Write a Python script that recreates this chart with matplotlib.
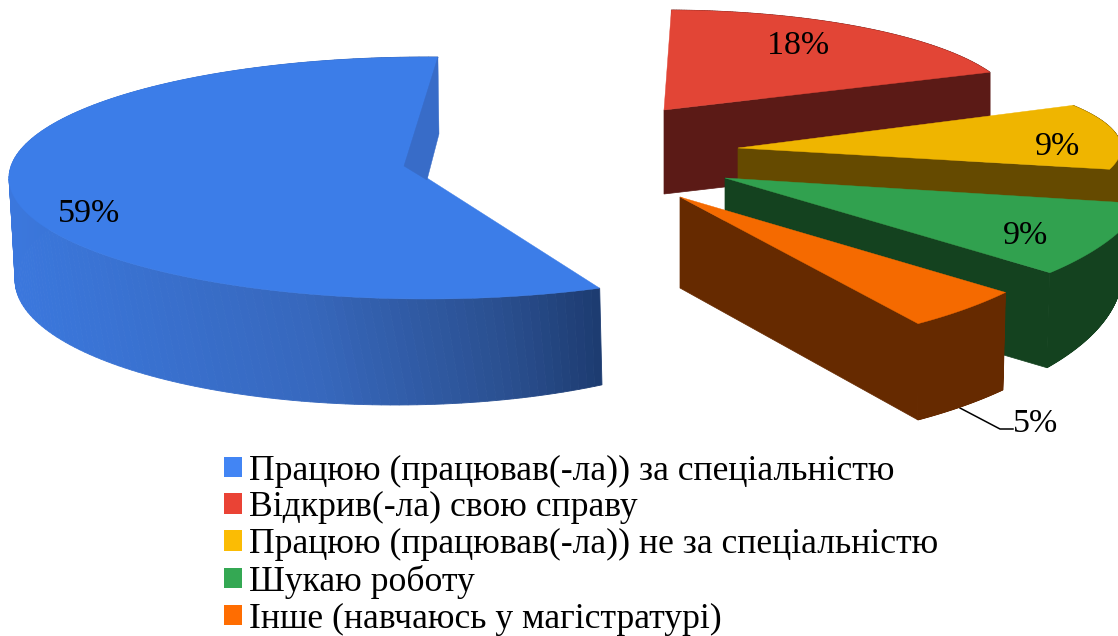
import numpy as np
import matplotlib
matplotlib.use("Agg")
import matplotlib.pyplot as plt
from matplotlib.patches import Patch
from matplotlib.colors import to_rgb

# Data
labels = [
    "Працюю (працював(-ла)) за спеціальністю",
    "Відкрив(-ла) свою справу",
    "Працюю (працював(-ла)) не за спеціальністю",
    "Шукаю роботу",
    "Інше (навчаюсь у магістратурі)",
]
shares = [59, 18, 9, 9, 5]

# Colours
legend_colors = ["#4285F4", "#EA4335", "#FBBC04", "#34A853", "#FF6D01"]
top_colors = ["#3C7DE8", "#E24536", "#EFB500", "#31A14F", "#F56A00"]
wall_colors = ["#3B78DE", "#5B1A16", "#654A00", "#14421F", "#662A00"]

# Fake 3D shape of every slice, fitted by eye (pixels, y down)
start_angle = -65.6
# top ellipse: centre x, centre y, rx, ry, nudge of start angle, nudge of end angle
top_shape = [
    (427, 178, 418, 121, 0, 6.5),
    (664, 110, 352, 100, 6.8, 5.0),
    (738, 148, 383, 88, 11.8, 1.2),
    (725, 178, 423, 148, 5.2, 7.8),
    (680, 197, 413, 155, 9.6, 10.8),
]
# bottom ellipse: centre x, centre y, rx, ry, first angle, last angle
bottom_shape = [
    (395, 280, 380, 125, -57, -271.5),
    (664, 194, 352, 100, 88.8, 22.2),
    (738, 243, 383, 88, 29, -14),
    (725, 273, 397, 162, -8.5, -35.8),
    (680, 288, 418, 160.5, -39.4, -55.3),
]
label_pos = [(89, 214), (798, 46), (1058, 147), (1026, 236), (1036, 424)]
font = "Liberation Serif"


def ellipse(cx, cy, rx, ry, angles):
    t = np.radians(angles)
    return cx + rx * np.cos(t), cy - ry * np.sin(t)


def blue_wall_color(x):
    stops_x = [0, 300, 500, 605]
    stops = np.array([to_rgb(c) for c in ["#3B78DE", "#3768BD", "#2A4F8F", "#1C3A6E"]])
    return [np.interp(x, stops_x, stops[:, i]) for i in range(3)]


fig = plt.figure(figsize=(11.18, 6.36), dpi=100)
ax = fig.add_axes([0, 0, 1, 1])
ax.set_xlim(0, 1118)
ax.set_ylim(636, 0)
ax.axis("off")

a0 = start_angle
for i, share in enumerate(shares):
    a1 = a0 - share * 3.6
    cx, cy, rx, ry, n0, n1 = top_shape[i]
    bx, by, brx, bry, b0, b1 = bottom_shape[i]
    ts = np.linspace(a0 + n0, a1 + n1, 160)
    bs = np.linspace(b0, b1, 160)
    tx, ty = ellipse(cx, cy, rx, ry, ts)
    wx, wy = ellipse(bx, by, brx, bry, bs)

    # outer wall, as thin strips
    for k in range(len(ts) - 1):
        if i == 0:
            color = blue_wall_color((tx[k] + tx[k + 1]) / 2)
        else:
            color = wall_colors[i]
        ax.fill([tx[k], tx[k + 1], wx[k + 1], wx[k]],
                [ty[k], ty[k + 1], wy[k + 1], wy[k]],
                color=color, lw=0.6, zorder=i * 3 + 1)

    # cut side that faces the viewer
    if i > 0:
        ax.fill([cx, tx[-1], wx[-1], bx], [cy, ty[-1], wy[-1], by],
                color=wall_colors[i], lw=0.5, zorder=i * 3 + 2)

    # top surface
    ax.fill(np.r_[cx, tx], np.r_[cy, ty], color=top_colors[i], lw=0.3,
            zorder=i * 3 + 3)

    # the small cut side seen inside the blue slice
    if i == 0:
        ax.fill([tx[-1], cx - 23, cx, cx + 12], [ty[-1], cy - 12, cy + 2, cy - 44],
                color="#386CC8", lw=0.3, zorder=i * 3 + 3.5)
    a0 = a1

for share, (x, y) in zip(shares, label_pos):
    ax.text(x, y, f"{share}%", family=font, fontsize=24.5, color="black",
            ha="center", va="center", zorder=30)

# leader line of the smallest slice
ax.plot([960, 1000, 1013], [408, 429, 429], color="black", lw=1.1, zorder=2)

handles = [Patch(facecolor=c, edgecolor="none") for c in legend_colors]
leg = ax.legend(handles, labels, loc="upper left", bbox_to_anchor=(224 / 1118, 1 - 454.5 / 636),
                frameon=False, prop={"family": font, "size": 25.7},
                handlelength=0.5, handleheight=0.5, handletextpad=0.21,
                labelspacing=0.105, borderpad=0.0, borderaxespad=0.0)

fig.savefig("out.png", dpi=100)
